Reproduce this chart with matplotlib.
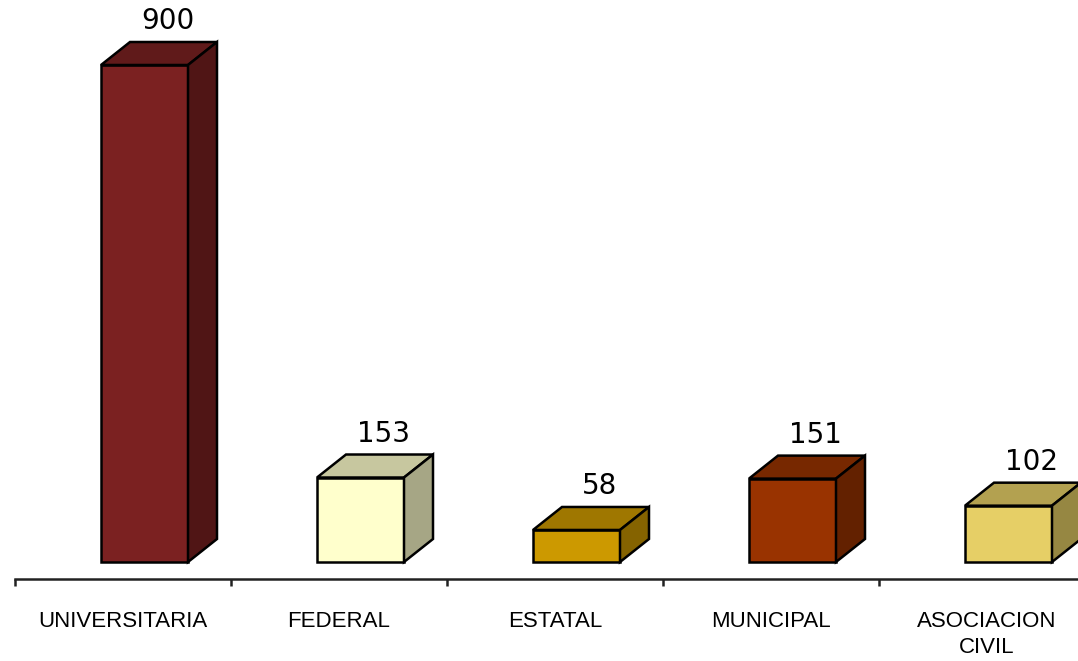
"""3D-style column chart: cantidad por tipo de institución."""
import matplotlib

matplotlib.use("Agg")
import matplotlib.pyplot as plt  # noqa: E402
from matplotlib.patches import Polygon, Rectangle  # noqa: E402

categories = ["UNIVERSITARIA", "FEDERAL", "ESTATAL", "MUNICIPAL", "ASOCIACION\nCIVIL"]
values = [900, 153, 58, 151, 102]
front_colors = ["#7b2121", "#ffffcc", "#cc9900", "#993300", "#e6cf66"]

W, H = 1078, 661
DPI = 100


def shade(hex_color, f):
    r, g, b = matplotlib.colors.to_rgb(hex_color)
    return (r * f, g * f, b * f)


def main() -> None:
    fig = plt.figure(figsize=(W / DPI, H / DPI), dpi=DPI)
    # axes: spine at pixel y=579 from top, left edge at x=15, right edge = figure edge
    ax = fig.add_axes([15 / W, (H - 579) / H, (W - 15) / W, 579 / H])

    px_per_val = 497 / 900
    ax.set_xlim(-0.5, (W - 123) / 216)
    ax.set_ylim(-(579 - 562) / px_per_val, 562 / px_per_val)

    # depth and bar geometry in data units (216 px per category)
    dx = 29 / 216
    dy = 23 / px_per_val
    bw = 87 / 216
    shift = 21.5 / 216

    for i, (v, c) in enumerate(zip(values, front_colors)):
        x0 = i + shift - bw / 2
        x1 = x0 + bw
        ax.add_patch(Rectangle((x0, 0), bw, v, facecolor=c, edgecolor="black", lw=1.8, zorder=3))
        ax.add_patch(Polygon([(x0, v), (x0 + dx, v + dy), (x1 + dx, v + dy), (x1, v)],
                             closed=True, facecolor=shade(c, 0.78), edgecolor="black",
                             lw=1.8, zorder=3))
        ax.add_patch(Polygon([(x1, 0), (x1 + dx, dy), (x1 + dx, v + dy), (x1, v)],
                             closed=True, facecolor=shade(c, 0.65), edgecolor="black",
                             lw=1.8, zorder=3))
        ax.annotate(str(v), xy=(i + shift, v), xytext=(23 * 0.72, 44 * 0.72),
                    textcoords="offset points", ha="center", va="center",
                    fontsize=20, family="DejaVu Sans", color="black")

    for s in ("left", "right", "top"):
        ax.spines[s].set_visible(False)
    ax.spines["bottom"].set_linewidth(1.8)
    ax.spines["bottom"].set_color("#222222")

    ax.set_yticks([])
    ax.set_xticks([i - 0.5 for i in range(len(categories))])
    ax.set_xticklabels([])
    ax.tick_params(axis="x", which="major", direction="out", length=5, width=1.8,
                   color="#222222")
    ax.set_xticks(range(len(categories)), minor=True)
    ax.set_xticklabels(categories, minor=True, fontsize=16, family="Liberation Sans",
                       linespacing=1.3)
    ax.tick_params(axis="x", which="minor", length=0, pad=23)

    fig.savefig("out.png", dpi=DPI)


if __name__ == "__main__":
    main()
